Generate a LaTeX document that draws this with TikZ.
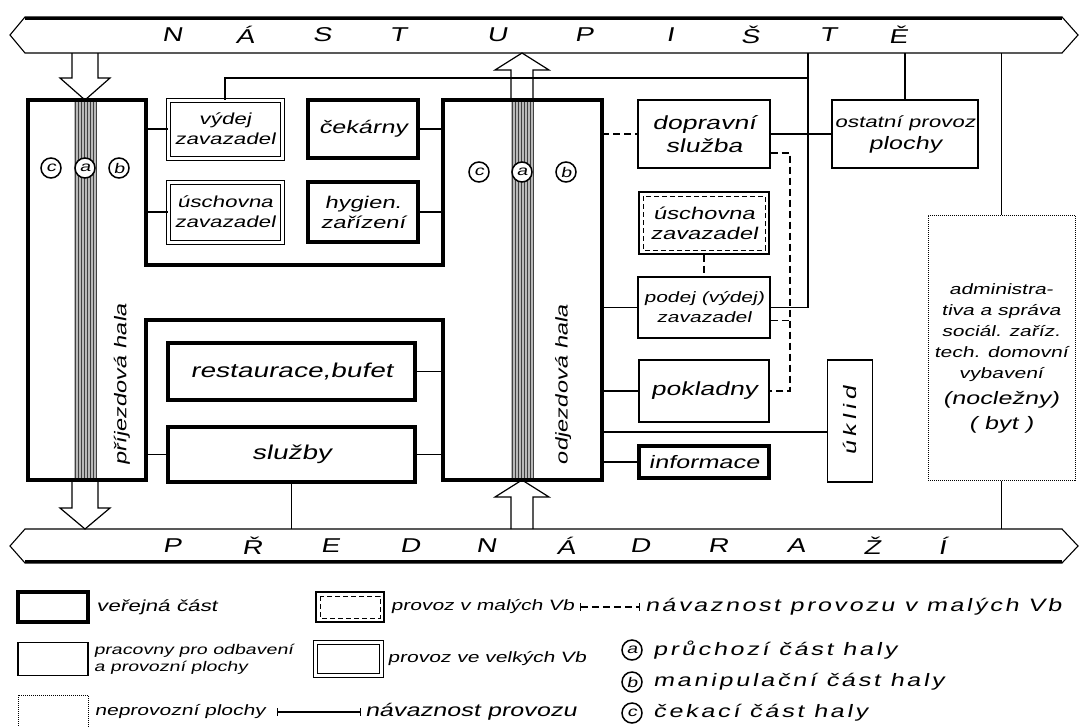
\documentclass[tikz,border=0pt]{standalone}
\usepackage{fontspec}
\newfontfamily\hand[FakeStretch=1.4,FakeSlant=0.2]{Liberation Sans}
\newcommand\fs[2]{\hand\fontsize{#1}{#2}\selectfont}
\usetikzlibrary{calc}
\begin{document}
\begin{tikzpicture}[x=1pt,y=-1pt,>=latex,
  conn/.style={line width=1.1pt},
  dashlink/.style={dash pattern=on 7pt off 4pt},
  pubbox/.style={draw,line width=4.5pt,inner sep=0pt,align=center},
  workbox/.style={draw,line width=1.2pt,inner sep=0pt,align=center},
  bigbox/.style={draw,double,line width=1pt,double distance=3pt,inner sep=0pt,align=center},
  smallbox/.style={draw,line width=1.4pt,inner sep=0pt,align=center,
    path picture={\draw[line width=.8pt,dash pattern=on 5pt off 3pt]
      ([shift={(4pt,-4pt)}]path picture bounding box.north west) rectangle
      ([shift={(-4pt,4pt)}]path picture bounding box.south east);}},
  nonbox/.style={draw,densely dotted,line width=1pt,inner sep=0pt},
  ring/.style={circle,draw,line width=1.5pt,fill=white,inner sep=0pt,minimum size=20pt,font=\fs{14}{14}},
  bandtxt/.style={inner sep=0pt,font=\fs{20}{20}},
  legtxt/.style={anchor=west,inner sep=0pt,align=left,font=\fs{15}{18}},
  hollow/.style={line width=1.2pt,line join=miter}]
\useasboundingbox (0,0) rectangle (1083,726);
% nastupiste / predadrazi
\draw[conn] (10,35) -- (25,17) -- (1062,17) -- (1078,35) -- (1062,53) -- (25,53) -- cycle;
\draw[line width=2.5pt] (25,18.5) -- (1062,18.5);
\draw[conn] (10,546) -- (25,529) -- (1062,529) -- (1078,546) -- (1062,563) -- (25,563) -- cycle;
\draw[line width=2.5pt] (25,561.5) -- (1062,561.5);
\coordinate (nastS) at (0,53);
\coordinate (predN) at (0,529);
\foreach \x/\l in {172/N,245/Á,322/S,398/T,497/U,584/P,670/I,750/Š,828/T,898/Ě}
  \node[bandtxt] (top\x) at (\x,35) {\l};
\foreach \x/\l in {172/P,252/Ř,330/E,410/D,486/N,566/Á,640/D,718/R,796/A,872/Ž,942/Í}
  \node[bandtxt] (bot\x) at (\x,546) {\l};
% haly
\foreach \hx in {74,511} {
  \fill[gray!55] (\hx,100) rectangle ++(23,380);
  \foreach \k in {1.5,4.5,...,22.5} \draw[line width=.6pt,black!75] (\hx+\k,100) -- ++(0,380);
}
\draw[line width=4.5pt,line join=miter] (28,100) -- (146,100) -- (146,265) -- (443,265) -- (443,100)
  -- (602,100) -- (602,480) -- (443,480) -- (443,320) -- (146,320) -- (146,480) -- (28,480) -- cycle;
\coordinate (pE) at (146,0);
\coordinate (oW) at (443,0);
\coordinate (oE) at (602,0);
\draw[hollow] (72,53) -- (72,78) -- (60,78) -- (85,100) -- (110,78) -- (98,78) -- (98,53);
\draw[hollow] (72,480) -- (72,508) -- (60,508) -- (85,529) -- (110,508) -- (98,508) -- (98,480);
\draw[hollow] (511,100) -- (511,70) -- (495,70) -- (522,53) -- (549,70) -- (533,70) -- (533,100);
\draw[hollow] (511,529) -- (511,497) -- (495,497) -- (522,480) -- (549,497) -- (533,497) -- (533,529);
\node[ring] (pc) at (51,168) {c};
\node[ring] (pa) at (85,168) {a};
\node[ring] (pb) at (119,168) {b};
\node[ring] (oc) at (479,172) {c};
\node[ring] (oa) at (522,172) {a};
\node[ring] (ob) at (566,172) {b};
\node[rotate=90,font=\fs{17}{17}] (prijtxt) at (122,385) {příjezdová hala};
\node[rotate=90,font=\fs{17}{17}] (odjtxt) at (563,385) {odjezdová hala};
% mistnosti
\node[bigbox,minimum width=114pt,minimum height=58pt,font=\fs{16}{20}] (vydej) at (225,129) {výdej\\zavazadel};
\node[bigbox,minimum width=114pt,minimum height=60pt,font=\fs{16}{20}] (uschl) at (225,212) {úschovna\\zavazadel};
\node[pubbox,minimum width=110pt,minimum height=58pt,font=\fs{18}{20}] (cek) at (363,129) {čekárny};
\node[pubbox,minimum width=110pt,minimum height=60pt,font=\fs{17}{20}] (hyg) at (363,212) {hygien.\\zařízení};
\node[pubbox,minimum width=247pt,minimum height=57pt,font=\fs{20}{22}] (rest) at (291.5,371.5) {restaurace,bufet};
\node[pubbox,minimum width=247pt,minimum height=55pt,font=\fs{20}{22}] (sluz) at (291.5,454.5) {služby};
\node[workbox,minimum width=132pt,minimum height=68pt,font=\fs{19}{23}] (dop) at (704,134) {dopravní\\služba};
\node[workbox,minimum width=146pt,minimum height=68pt,font=\fs{16}{22}] (ost) at (905,134) {ostatní provoz\\{\fs{18}{22}plochy}};
\node[smallbox,minimum width=130pt,minimum height=62pt,font=\fs{17}{20}] (uschr) at (704,223) {úschovna\\zavazadel};
\node[workbox,minimum width=132pt,minimum height=61pt,font=\fs{15}{20}] (podej) at (704,307.5) {podej (výdej)\\zavazadel};
\node[workbox,minimum width=130pt,minimum height=62pt,font=\fs{19}{20}] (pokl) at (704,391) {pokladny};
\node[pubbox,minimum width=130pt,minimum height=32pt,font=\fs{18}{20}] (info) at (704,462) {informace};
% rotated box: its north side is the left side
\node[workbox,rotate=90,minimum width=122pt,minimum height=45pt,font={\fs{18}{20}\addfontfeatures{LetterSpace=25}}] (ukl) at (850,421) {úklid};
\node[nonbox,minimum width=147pt,minimum height=265pt] (adm) at (1001.5,347.5) {};
\node[align=center,font=\fs{15}{21}] (admtxt) at (1001,358) {administra-\\tiva a správa\\sociál. zaříz.\\tech. domovní\\vybavení\\[5pt]{\fs{18}{18}(nocležny)}\\[4pt]{\fs{18}{18}( byt )}};
% navaznosti
\draw[conn] (vydej.west -| pE) -- (vydej.west);
\draw[conn] (uschl.west -| pE) -- (uschl.west);
\draw[conn] (cek.east) -- (cek.east -| oW);
\draw[conn] (hyg.east) -- (hyg.east -| oW);
\draw[conn] (rest.east) -- (rest.east -| oW);
\draw[conn] (sluz.west -| pE) -- (sluz.west);
\draw[conn] (sluz.east) -- (sluz.east -| oW);
\draw[conn] (sluz.south) -- (sluz.south |- predN);
\coordinate (tj) at (808,78);
\draw[conn] (vydej.north) |- (tj);
\draw[conn] (tj |- nastS) -- (tj |- podej.east) -- (podej.east);
\draw[conn] (dop.east) -- (ost.west);
\draw[conn] (ost.north) -- (ost.north |- nastS);
\draw[conn] (adm.north) -- (adm.north |- nastS);
\draw[conn] (adm.south) -- (adm.south |- predN);
\draw[conn,dashlink] (dop.west -| oE) -- (dop.west);
\coordinate (dj) at (790,0);
\draw[conn,dashlink] ([yshift=-19pt]dop.east) -| (pokl.east -| dj) -- (pokl.east);
\draw[conn,dashlink] ([yshift=-13pt]podej.east) -- ([yshift=-13pt]podej.east -| dj);
\draw[conn,dashlink] (uschr.south) -- (podej.north);
\draw[conn] (podej.west -| oE) -- (podej.west);
\draw[conn] (pokl.west -| oE) -- (pokl.west);
\coordinate (uk) at ($(ukl.north)+(0,11)$);
\draw[conn] (uk -| oE) -- (uk);
\draw[conn] (info.west -| oE) -- (info.west);
% legenda
\node[pubbox,minimum width=70pt,minimum height=30pt] (lpub) at (53,607) {};
\node[legtxt,font=\fs{16}{18}] (tpub) at ([xshift=6pt]lpub.east) {veřejná část};
\node[smallbox,minimum width=68pt,minimum height=30pt] (lsmall) at (350,607) {};
\node[legtxt] (tsmall) at ([xshift=6pt]lsmall.east) {provoz v malých Vb};
\coordinate (ls1) at (580,607);
\coordinate (ls2) at (640,607);
\draw[conn,dashlink,|-|] (ls1) -- (ls2);
\node[legtxt,font={\fs{18}{20}\addfontfeatures{LetterSpace=14}}] (tsmalllink) at (645,607) {návaznost provozu v malých Vb};
\node[workbox,minimum width=70pt,minimum height=33pt] (lwork) at (53,659) {};
\node[legtxt,font=\fs{14}{17}] (twork) at ([xshift=5pt]lwork.east) {pracovny pro odbavení\\a provozní plochy};
\node[bigbox,minimum width=66pt,minimum height=33pt] (lbig) at (348,659) {};
\node[legtxt] (tbig) at ([xshift=6pt]lbig.east) {provoz ve velkých Vb};
\node[nonbox,minimum width=70pt,minimum height=34pt] (lnon) at (53,712) {};
\node[legtxt] (tnon) at ([xshift=6pt]lnon.east) {neprovozní plochy};
\coordinate (ll1) at (277,712);
\coordinate (ll2) at (361,712);
\draw[conn,|-|] (ll1) -- (ll2);
\node[legtxt,font=\fs{18}{20}] (tlink) at (365,712) {návaznost provozu};
\node[ring] (la) at (632,650) {a};
\node[legtxt,font={\fs{18}{20}\addfontfeatures{LetterSpace=15}}] (ta) at (653,650) {průchozí část haly};
\node[ring] (lb) at (632,682) {b};
\node[legtxt,font={\fs{18}{20}\addfontfeatures{LetterSpace=15}}] (tb) at (653,682) {manipulační část haly};
\node[ring] (lc) at (632,713) {c};
\node[legtxt,font={\fs{18}{20}\addfontfeatures{LetterSpace=15}}] (tc) at (653,713) {čekací část haly};
\end{tikzpicture}
\end{document}
